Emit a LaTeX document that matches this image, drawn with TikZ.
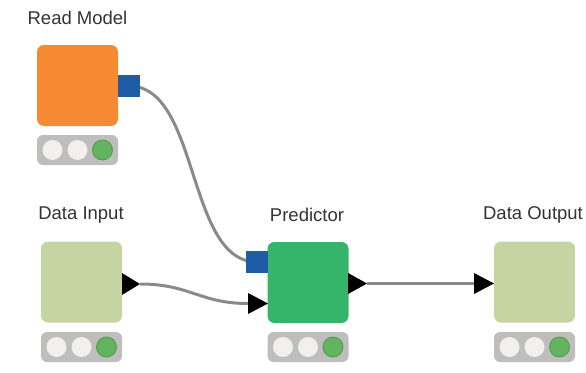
\documentclass[tikz,border=0pt]{standalone}
\usepackage{fontspec}
\setmainfont{Liberation Sans}
\usetikzlibrary{positioning}
\definecolor{readOrange}{HTML}{F58A32}
\definecolor{dataGreen}{HTML}{C5D4A1}
\definecolor{predGreen}{HTML}{35B56A}
\definecolor{portBlue}{HTML}{1E5DA6}
\definecolor{barGray}{HTML}{BEBEBC}
\definecolor{lampOff}{HTML}{F1F0EE}
\definecolor{lampGreen}{HTML}{63B35F}
\definecolor{lampEdge}{HTML}{4E9A4A}
\definecolor{lineGray}{HTML}{8A8A8A}
\definecolor{titleGray}{HTML}{333333}

\begin{document}
\begin{tikzpicture}[x=1pt, y=-1pt,
        every node/.style={inner sep=0pt},
        knode/.style={rounded corners=7pt, minimum size=81pt},
        statbar/.style={fill=barGray, rounded corners=6pt, minimum width=81pt, minimum height=30pt},
        lamp/.style={circle, fill=lampOff, minimum size=20pt},
        lampon/.style={circle, fill=lampGreen, draw=lampEdge, line width=0.8pt, minimum size=20pt},
        port/.style={fill=portBlue, minimum size=22pt},
        conn/.style={draw=lineGray, line width=3pt},
        nodetitle/.style={font=\fontsize{18.5}{21}\selectfont, text=titleGray}]
        \useasboundingbox (0,0) rectangle (586,372);

        % Nodes
        \node[knode, fill=readOrange] (rm) at (77.5,85.5) {};
        \node[knode, fill=dataGreen] (di) at (81.5,282) {};
        \node[knode, fill=predGreen] (pr) at (308,282.5) {};
        \node[knode, fill=dataGreen] (do) at (534.5,282) {};

        % Titles
        \node[nodetitle] (rmtitle) at (77.5,18) {Read Model};
        \node[nodetitle] (dititle) at (81,215) {Data Input};
        \node[nodetitle] (prtitle) at (307,215) {Predictor};
        \node[nodetitle] (dotitle) at (533,215) {Data Output};

        % Status bars
        \foreach \n/\x/\y in {rm/77.5/150, di/81.5/347, pr/308/347, do/534.5/347} {
            \node[statbar] (\n-stat) at (\x,\y) {};
            \node[lamp] (\n-l1) at (\x-25,\y) {};
            \node[lamp] (\n-l2) at (\x,\y) {};
            \node[lampon] (\n-l3) at (\x+25,\y) {};
        }

        % Ports
        \coordinate (diout) at (140,284);
        \coordinate (prin) at (248,303.5);
        \coordinate (prout) at (367,283.5);
        \coordinate (doin) at (474,283.5);

        % Edges
        \draw[conn] (129,86) .. controls (200,86) and (186,262) .. (257,262);
        \draw[conn] (diout) .. controls (190,284) and (200,303.5) .. (prin);
        \draw[conn] (prout) -- (doin);

        \node[port] (rmout) at (129,86) {};
        \node[port] (prmodel) at (257,262) {};
        \fill (diout) -- (122,273) -- (122,295) -- cycle;
        \fill (268,303.5) -- (248,293) -- (248,314) -- cycle;
        \fill (prout) -- (348,273) -- (348,294) -- cycle;
        \fill (494,283.5) -- (474,273) -- (474,294) -- cycle;
    \end{tikzpicture}
\end{document}
